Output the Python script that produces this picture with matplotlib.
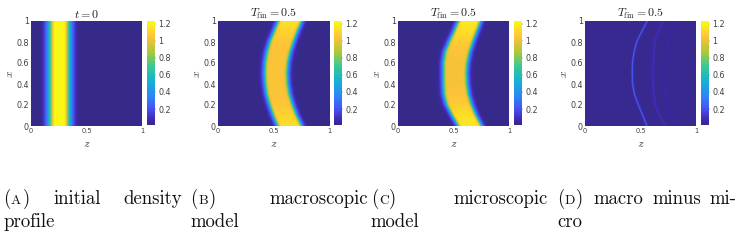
import numpy as np
import matplotlib
matplotlib.use("Agg")
import matplotlib.pyplot as plt
from matplotlib.colors import LinearSegmentedColormap

plt.rcParams['mathtext.fontset'] = 'cm'

W = 745
H = 242

# profile of the initial density along z
zInit = [0, 0.09, 0.12, 0.15, 0.17, 0.19, 0.21, 0.30, 0.32, 0.34, 0.37, 0.40, 0.43, 1]
rhoInit = [0.02, 0.02, 0.15, 0.40, 0.65, 0.95, 1.22, 1.22, 1.00, 0.65, 0.30, 0.10, 0.02, 0.02]

# rows along x where the fronts were read
xRows = [0, 0.1, 0.2, 0.3, 0.4, 0.5, 0.6, 0.7, 0.8, 0.9, 1]

# front positions and plateau height, macroscopic model
leftMacro = [0.535, 0.495, 0.462, 0.435, 0.422, 0.418, 0.422, 0.438, 0.465, 0.505, 0.545]
rightMacro = [0.745, 0.700, 0.665, 0.637, 0.622, 0.618, 0.625, 0.645, 0.675, 0.710, 0.750]
plateauMacro = [1.14, 1.10, 1.06, 1.04, 1.04, 1.04, 1.04, 1.04, 1.06, 1.10, 1.15]

# front positions and plateau height, microscopic model
leftMicro = [0.545, 0.490, 0.440, 0.415, 0.410, 0.410, 0.410, 0.425, 0.465, 0.510, 0.550]
rightMicro = [0.750, 0.700, 0.662, 0.635, 0.622, 0.618, 0.625, 0.645, 0.675, 0.710, 0.745]
plateauMicro = [1.17, 1.14, 1.08, 1.04, 1.03, 1.03, 1.03, 1.04, 1.08, 1.14, 1.18]

# ridges in the difference plot
ridge1 = [0.557, 0.520, 0.480, 0.445, 0.428, 0.425, 0.428, 0.442, 0.467, 0.515, 0.566]
ridge2 = [0.720, 0.670, 0.635, 0.620, 0.615, 0.613, 0.617, 0.622, 0.630, 0.665, 0.708]
ridge3 = [0.810, 0.770, 0.745, 0.730, 0.725, 0.722, 0.725, 0.735, 0.750, 0.775, 0.815]
ridgeHeight = [0.24, 0.06, 0.02]
ridgeWidth = [0.007, 0.012, 0.015]
diffBase = 0.03

# shape of a front, distance to the half height point / fraction of the plateau
frontDist = [-0.07, -0.045, -0.025, -0.012, 0, 0.012, 0.025, 0.04]
frontFrac = [0.0, 0.04, 0.16, 0.32, 0.55, 0.82, 0.97, 1.0]

cbarTicks = [0.2, 0.4, 0.6, 0.8, 1, 1.2]
cbarLabels = ['0.2', '0.4', '0.6', '0.8', '1', '1.2']
vMin = 0.013
vMax = 1.231

parulaColors = [(0.2081, 0.1663, 0.5292), (0.2422, 0.1504, 0.6603), (0.2810, 0.3228, 0.9579),
                (0.1786, 0.5289, 0.9682), (0.0689, 0.6948, 0.8394), (0.2161, 0.7843, 0.5923),
                (0.6720, 0.7793, 0.2227), (0.9970, 0.7659, 0.2199), (0.9769, 0.9839, 0.0805)]
parulaPos = [0, 0.04, 0.16, 0.28, 0.42, 0.56, 0.70, 0.85, 1]
parula = LinearSegmentedColormap.from_list("parula", list(zip(parulaPos, parulaColors)))

zGrid = np.linspace(0, 1, 500)
xGrid = np.linspace(0, 1, 250)
textGray = '#404040'
capColor = '#111111'


def initialField():
    row = np.interp(zGrid, zInit, rhoInit)
    return np.tile(row, (len(xGrid), 1))


def frontField(left, right, plateau):
    field = np.zeros((len(xGrid), len(zGrid)))
    for i, x in enumerate(xGrid):
        l = np.interp(x, xRows, left)
        r = np.interp(x, xRows, right)
        top = np.interp(x, xRows, plateau)
        rise = np.interp(zGrid - l, frontDist, frontFrac)
        fall = np.interp(r - zGrid, frontDist, frontFrac)
        field[i] = 0.02 + (top - 0.02) * rise * fall
    return field


def diffField():
    field = np.full((len(xGrid), len(zGrid)), diffBase)
    for ridge, height, width in zip([ridge1, ridge2, ridge3], ridgeHeight, ridgeWidth):
        for i, x in enumerate(xGrid):
            c = np.interp(x, xRows, ridge)
            field[i] += height * np.exp(-((zGrid - c) / width) ** 2)
    return field


def axesAt(fig, x0, x1, y0, y1):
    return fig.add_axes([x0 / W, 1 - y1 / H, (x1 - x0) / W, (y1 - y0) / H])


def panel(fig, x0, cx0, field, title):
    ax = axesAt(fig, x0, x0 + 111, 21, 126)
    im = ax.imshow(field, origin='lower', extent=[0, 1, 0, 1], aspect='auto', cmap=parula,
                   vmin=vMin, vmax=vMax, interpolation='bilinear')
    ax.set_xticks([0, 0.5, 1])
    ax.set_xticklabels(['0', '0.5', '1'], fontsize=4.8, color=textGray)
    ax.set_yticks([0, 0.2, 0.4, 0.6, 0.8, 1])
    ax.set_yticklabels(['0', '0.2', '0.4', '0.6', '0.8', '1'], fontsize=5.8, color=textGray)
    ax.tick_params(length=0, pad=1.5)
    for s in ax.spines.values():
        s.set_visible(False)
    ax.set_xlabel('$z$', fontsize=8.5, color=textGray, va='center')
    ax.xaxis.set_label_coords(0.5, -0.17)
    ax.set_ylabel('$x$', fontsize=8.5, color=textGray, va='center')
    ax.yaxis.set_label_coords(-0.19, 0.5)
    ax.set_title(title, fontsize=8.6, color='#222222', pad=0)

    cax = axesAt(fig, cx0, cx0 + 8, 21, 125)
    cb = fig.colorbar(im, cax=cax)
    cb.set_ticks(cbarTicks)
    cb.set_ticklabels(cbarLabels, fontsize=5.8, color=textGray)
    cb.ax.tick_params(length=1, width=0.3, pad=1.5, color=textGray)
    cb.outline.set_visible(False)


def word(fig, x, y, s, size=13.5):
    fig.text(x / W, 1 - y / H, s, family='cmr10', fontsize=size, color=capColor)


def label(fig, x, y, letter, dLetter, dClose):
    word(fig, x, y, '(')
    word(fig, x + dLetter, y, letter, 9.8)
    word(fig, x + dClose, y, ')')


fig = plt.figure(figsize=(W / 100, H / 100), dpi=100)

tFin = r'$T_{\rm fin}=0.5$'
panel(fig, 31, 147, initialField(), '$t=0$')
panel(fig, 218, 334, frontField(leftMacro, rightMacro, plateauMacro), tFin)
panel(fig, 398, 514, frontField(leftMicro, rightMicro, plateauMicro), tFin)
panel(fig, 585, 701, diffField(), tFin)

line1 = 204
line2 = 227

label(fig, 3, line1, 'A', 8, 20)
word(fig, 53, line1, 'initial')
word(fig, 123, line1, 'density')
word(fig, 3, line2, 'profile')

label(fig, 190, line1, 'B', 9, 19)
word(fig, 269, line1, 'macroscopic')
word(fig, 190, line2, 'model')

label(fig, 371, line1, 'C', 8, 18)
word(fig, 453, line1, 'microscopic')
word(fig, 370, line2, 'model')

label(fig, 557, line1, 'D', 8, 19)
word(fig, 593, line1, 'macro')
word(fig, 652, line1, 'minus')
word(fig, 709, line1, 'mi-')
word(fig, 557, line2, 'cro')

fig.savefig("out.png", dpi=100)
